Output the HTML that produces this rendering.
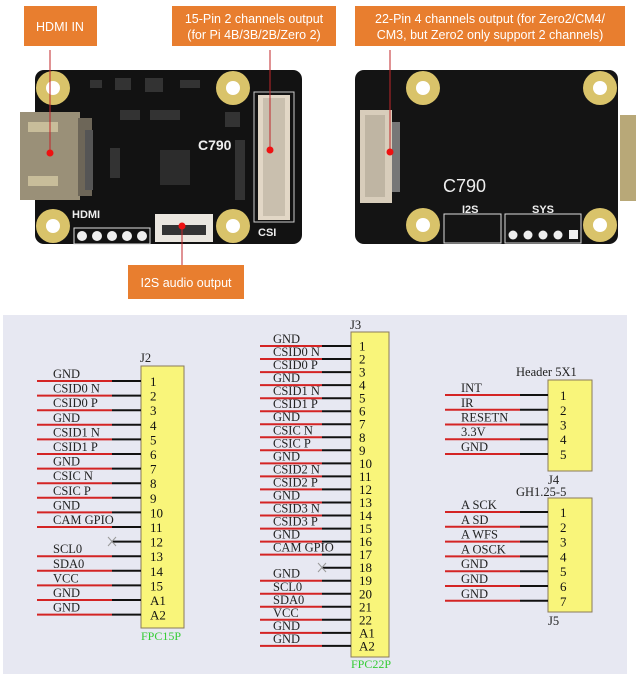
<!DOCTYPE html>
<html><head><meta charset="utf-8"><style>
html,body{margin:0;padding:0;background:#fff;width:640px;height:679px;overflow:hidden}
svg{display:block}
.lb{font-family:"Liberation Sans",sans-serif;font-size:12.5px;fill:#fff}
.s{font-family:"Liberation Serif",serif;font-size:12.5px;fill:#222}
.n{font-family:"Liberation Serif",serif;font-size:13px;fill:#111}
</style></head><body>
<svg width="640" height="679" viewBox="0 0 640 679" xmlns="http://www.w3.org/2000/svg">
<rect width="640" height="679" fill="#fff"/>
<!-- labels -->
<rect x="24" y="6" width="73" height="40" fill="#e87e2f"/>
<text class="lb" x="60" y="31" text-anchor="middle">HDMI IN</text>
<rect x="172" y="6" width="164" height="40" fill="#e87e2f"/>
<text class="lb" x="254" y="23" text-anchor="middle" font-size="12">15-Pin 2 channels output</text>
<text class="lb" x="254" y="39" text-anchor="middle" font-size="12">(for Pi 4B/3B/2B/Zero 2)</text>
<rect x="355" y="6" width="270" height="40" fill="#e87e2f"/>
<text class="lb" x="490" y="23" text-anchor="middle" font-size="12">22-Pin 4 channels output (for Zero2/CM4/</text>
<text class="lb" x="490" y="39" text-anchor="middle" font-size="12">CM3, but Zero2 only support 2 channels)</text>
<rect x="128" y="265" width="116" height="34" fill="#e87e2f"/>
<text class="lb" x="186" y="287" text-anchor="middle">I2S audio output</text>

<!-- board 1 -->
<rect x="35" y="70" width="267" height="174" rx="9" fill="#121212"/>
<g fill="#d9c36a"><circle cx="53" cy="88" r="17"/><circle cx="233" cy="88" r="17"/><circle cx="53" cy="226" r="17"/><circle cx="233" cy="226" r="17"/></g>
<g fill="#fff"><circle cx="53" cy="88" r="7"/><circle cx="233" cy="88" r="7"/><circle cx="53" cy="226" r="7"/><circle cx="233" cy="226" r="7"/></g>
<rect x="20" y="112" width="60" height="88" fill="#9a9078"/>
<rect x="78" y="118" width="14" height="78" fill="#6d6658"/>
<rect x="28" y="122" width="30" height="10" fill="#c8bd9a"/>
<rect x="28" y="176" width="30" height="10" fill="#c8bd9a"/>
<rect x="85" y="130" width="8" height="60" fill="#555"/>
<rect x="160" y="150" width="30" height="35" fill="#2c2c2c"/>
<rect x="258" y="95" width="32" height="125" fill="#e2d7c6"/>
<rect x="263" y="98" width="22" height="118" fill="#c9bfae"/>
<rect x="254" y="92" width="40" height="130" fill="none" stroke="#ccc" stroke-width="1"/>
<text x="198" y="150" font-family="Liberation Sans,sans-serif" font-weight="bold" font-size="14" fill="#eee">C790</text>
<text x="72" y="218" font-family="Liberation Sans,sans-serif" font-weight="bold" font-size="11" fill="#eee">HDMI</text>
<text x="258" y="236" font-family="Liberation Sans,sans-serif" font-weight="bold" font-size="11" fill="#eee">CSI</text>
<rect x="74" y="228" width="76" height="16" fill="none" stroke="#ddd"/>
<g fill="#eee"><circle cx="82" cy="236" r="5"/><circle cx="97" cy="236" r="5"/><circle cx="112" cy="236" r="5"/><circle cx="127" cy="236" r="5"/><circle cx="142" cy="236" r="5"/></g>
<rect x="155" y="214" width="58" height="28" fill="#eae6df"/>
<rect x="162" y="225" width="44" height="10" fill="#333"/>
<g fill="#333"><rect x="90" y="80" width="12" height="8"/><rect x="115" y="78" width="16" height="12"/><rect x="145" y="78" width="18" height="14"/><rect x="180" y="80" width="20" height="8"/><rect x="120" y="110" width="20" height="10"/><rect x="150" y="110" width="30" height="10"/><rect x="110" y="148" width="10" height="30"/><rect x="225" y="112" width="15" height="15"/><rect x="235" y="140" width="10" height="60"/></g>
<line x1="50" y1="50" x2="50" y2="153" stroke="#c0262a" stroke-width="1"/>
<circle cx="50" cy="153" r="3.5" fill="#e11"/>
<line x1="270" y1="50" x2="270" y2="150" stroke="#c0262a" stroke-width="1"/>
<circle cx="270" cy="150" r="3.5" fill="#e11"/>
<line x1="182" y1="226" x2="182" y2="265" stroke="#c0262a" stroke-width="1"/>
<circle cx="182" cy="226" r="3.5" fill="#e11"/>

<!-- board 2 -->
<rect x="355" y="70" width="263" height="174" rx="9" fill="#141414"/>
<rect x="620" y="115" width="16" height="86" fill="#b8a878"/>
<g fill="#d9c36a"><circle cx="423" cy="88" r="17"/><circle cx="600" cy="88" r="17"/><circle cx="423" cy="225" r="17"/><circle cx="600" cy="225" r="17"/></g>
<g fill="#fff"><circle cx="423" cy="88" r="7"/><circle cx="600" cy="88" r="7"/><circle cx="423" cy="225" r="7"/><circle cx="600" cy="225" r="7"/></g>
<rect x="360" y="110" width="32" height="93" fill="#d8cdbb"/>
<rect x="365" y="115" width="20" height="82" fill="#bfb5a3"/>
<rect x="392" y="122" width="8" height="70" fill="#777"/>
<text x="443" y="192" font-family="Liberation Sans,sans-serif" font-size="18" fill="#eee">C790</text>
<text x="462" y="213" font-family="Liberation Sans,sans-serif" font-weight="bold" font-size="11" fill="#eee">I2S</text>
<text x="532" y="213" font-family="Liberation Sans,sans-serif" font-weight="bold" font-size="11" fill="#eee">SYS</text>
<rect x="444" y="214" width="57" height="29" fill="none" stroke="#ddd"/>
<rect x="505" y="214" width="76" height="29" fill="none" stroke="#ddd"/>
<g fill="#eee"><circle cx="513" cy="235" r="4.5"/><circle cx="528" cy="235" r="4.5"/><circle cx="543" cy="235" r="4.5"/><circle cx="558" cy="235" r="4.5"/><rect x="569" y="230" width="9" height="9"/></g>
<line x1="390" y1="50" x2="390" y2="152" stroke="#c0262a" stroke-width="1"/>
<circle cx="390" cy="152" r="3.5" fill="#e11"/>

<!-- schematic panel -->
<rect x="3" y="315" width="624" height="359" fill="#e7e8f2"/>

<!-- J2 -->
<text class="s" x="140" y="362">J2</text>
<rect x="141" y="366" width="43" height="262" fill="#f9f57a" stroke="#8a7a5a" stroke-width="1"/>
<text x="141" y="640" font-family="Liberation Serif,serif" font-size="12" fill="#3c3">FPC15P</text>
<g id="j2"></g>

<!-- J3 -->
<text class="s" x="350" y="329">J3</text>
<rect x="351" y="332" width="38" height="325" fill="#f9f57a" stroke="#8a7a5a" stroke-width="1"/>
<text x="351" y="668" font-family="Liberation Serif,serif" font-size="12" fill="#3c3">FPC22P</text>

<!-- J4 -->
<text class="s" x="516" y="376">Header 5X1</text>
<rect x="548" y="380" width="44" height="91" fill="#f9f57a" stroke="#8a7a5a" stroke-width="1"/>
<text class="s" x="548" y="484">J4</text>
<text class="s" x="516" y="496">GH1.25-5</text>
<rect x="548" y="498" width="44" height="114" fill="#f9f57a" stroke="#8a7a5a" stroke-width="1"/>
<text class="s" x="548" y="625">J5</text>

<g stroke-width="2">
<!-- J2 lines -->
<g>
<path d="M37 381H112M37 395.6H112M37 410.2H112M37 424.8H112M37 439.4H112M37 454H112M37 468.6H112M37 483.2H112M37 497.8H112M37 512.4H112M37 527H112M37 556.2H112M37 570.8H112M37 585.4H112M37 600H112M37 614.6H112" stroke="#d42424"/>
<path d="M112 381H141M112 395.6H141M112 410.2H141M112 424.8H141M112 439.4H141M112 454H141M112 468.6H141M112 483.2H141M112 497.8H141M112 512.4H141M112 527H141M112 541.6H141M112 556.2H141M112 570.8H141M112 585.4H141M112 600H141M112 614.6H141" stroke="#111"/>
</g>
<!-- J3 lines -->
<path d="M260 346H322M260 359H322M260 372.1H322M260 385.1H322M260 398.2H322M260 411.2H322M260 424.2H322M260 437.3H322M260 450.3H322M260 463.4H322M260 476.4H322M260 489.4H322M260 502.5H322M260 515.5H322M260 528.6H322M260 541.6H322M260 554.6H322M260 580.7H322M260 593.8H322M260 606.8H322M260 619.8H322M260 632.9H322M260 645.9H322" stroke="#d42424"/>
<path d="M322 346H351M322 359H351M322 372.1H351M322 385.1H351M322 398.2H351M322 411.2H351M322 424.2H351M322 437.3H351M322 450.3H351M322 463.4H351M322 476.4H351M322 489.4H351M322 502.5H351M322 515.5H351M322 528.6H351M322 541.6H351M322 554.6H351M322 567.7H351M322 580.7H351M322 593.8H351M322 606.8H351M322 619.8H351M322 632.9H351M322 645.9H351" stroke="#111"/>
<!-- J4 -->
<path d="M445 395H520M445 409.8H520M445 424.5H520M445 439.2H520M445 454H520" stroke="#d42424"/>
<path d="M520 395H548M520 409.8H548M520 424.5H548M520 439.2H548M520 454H548" stroke="#111"/>
<!-- J5 -->
<path d="M445 512H520M445 526.8H520M445 541.6H520M445 556.4H520M445 571.2H520M445 586H520M445 600.8H520" stroke="#d42424"/>
<path d="M520 512H548M520 526.8H548M520 541.6H548M520 556.4H548M520 571.2H548M520 586H548M520 600.8H548" stroke="#111"/>
</g>
<g stroke="#999" stroke-width="1"><path d="M108 537l8 9M116 537l-8 9M318 563l8 9M326 563l-8 9"/></g>

<!-- J2 labels -->
<g class="s">
<text class="s" x="53" y="378">GND</text>
<text class="s" x="53" y="392.6">CSID0 N</text>
<text class="s" x="53" y="407.2">CSID0 P</text>
<text class="s" x="53" y="421.8">GND</text>
<text class="s" x="53" y="436.4">CSID1 N</text>
<text class="s" x="53" y="451">CSID1 P</text>
<text class="s" x="53" y="465.6">GND</text>
<text class="s" x="53" y="480.2">CSIC N</text>
<text class="s" x="53" y="494.8">CSIC P</text>
<text class="s" x="53" y="509.4">GND</text>
<text class="s" x="53" y="524">CAM GPIO</text>
<text class="s" x="53" y="553.2">SCL0</text>
<text class="s" x="53" y="567.8">SDA0</text>
<text class="s" x="53" y="582.4">VCC</text>
<text class="s" x="53" y="597">GND</text>
<text class="s" x="53" y="611.6">GND</text>
</g>
<g>
<text class="n" x="150" y="386">1</text><text class="n" x="150" y="400.6">2</text><text class="n" x="150" y="415.2">3</text><text class="n" x="150" y="429.8">4</text><text class="n" x="150" y="444.4">5</text><text class="n" x="150" y="459">6</text><text class="n" x="150" y="473.6">7</text><text class="n" x="150" y="488.2">8</text><text class="n" x="150" y="502.8">9</text><text class="n" x="150" y="517.4">10</text><text class="n" x="150" y="532">11</text><text class="n" x="150" y="546.6">12</text><text class="n" x="150" y="561.2">13</text><text class="n" x="150" y="575.8">14</text><text class="n" x="150" y="590.4">15</text><text class="n" x="150" y="605">A1</text><text class="n" x="150" y="619.6">A2</text>
</g>
<!-- J3 labels -->
<g font-size="11.5">
<text class="s" x="273" y="343" font-size="11.5">GND</text>
<text class="s" x="273" y="356" font-size="11.5">CSID0 N</text>
<text class="s" x="273" y="369.1" font-size="11.5">CSID0 P</text>
<text class="s" x="273" y="382.1" font-size="11.5">GND</text>
<text class="s" x="273" y="395.2" font-size="11.5">CSID1 N</text>
<text class="s" x="273" y="408.2" font-size="11.5">CSID1 P</text>
<text class="s" x="273" y="421.2" font-size="11.5">GND</text>
<text class="s" x="273" y="434.3" font-size="11.5">CSIC N</text>
<text class="s" x="273" y="447.3" font-size="11.5">CSIC P</text>
<text class="s" x="273" y="460.4" font-size="11.5">GND</text>
<text class="s" x="273" y="473.4" font-size="11.5">CSID2 N</text>
<text class="s" x="273" y="486.4" font-size="11.5">CSID2 P</text>
<text class="s" x="273" y="499.5" font-size="11.5">GND</text>
<text class="s" x="273" y="512.5" font-size="11.5">CSID3 N</text>
<text class="s" x="273" y="525.6" font-size="11.5">CSID3 P</text>
<text class="s" x="273" y="538.6" font-size="11.5">GND</text>
<text class="s" x="273" y="551.6" font-size="11.5">CAM GPIO</text>
<text class="s" x="273" y="577.7" font-size="11.5">GND</text>
<text class="s" x="273" y="590.8" font-size="11.5">SCL0</text>
<text class="s" x="273" y="603.8" font-size="11.5">SDA0</text>
<text class="s" x="273" y="616.8" font-size="11.5">VCC</text>
<text class="s" x="273" y="629.9" font-size="11.5">GND</text>
<text class="s" x="273" y="642.9" font-size="11.5">GND</text>
</g>
<g>
<text class="n" x="359" y="350.5" font-size="12">1</text><text class="n" x="359" y="363.5" font-size="12">2</text><text class="n" x="359" y="376.6" font-size="12">3</text><text class="n" x="359" y="389.6" font-size="12">4</text><text class="n" x="359" y="402.7" font-size="12">5</text><text class="n" x="359" y="415.7" font-size="12">6</text><text class="n" x="359" y="428.7" font-size="12">7</text><text class="n" x="359" y="441.8" font-size="12">8</text><text class="n" x="359" y="454.8" font-size="12">9</text><text class="n" x="359" y="467.9" font-size="12">10</text><text class="n" x="359" y="480.9" font-size="12">11</text><text class="n" x="359" y="493.9" font-size="12">12</text><text class="n" x="359" y="507" font-size="12">13</text><text class="n" x="359" y="520" font-size="12">14</text><text class="n" x="359" y="533.1" font-size="12">15</text><text class="n" x="359" y="546.1" font-size="12">16</text><text class="n" x="359" y="559.1" font-size="12">17</text><text class="n" x="359" y="572.2" font-size="12">18</text><text class="n" x="359" y="585.2" font-size="12">19</text><text class="n" x="359" y="598.3" font-size="12">20</text><text class="n" x="359" y="611.3" font-size="12">21</text><text class="n" x="359" y="624.3" font-size="12">22</text><text class="n" x="359" y="637.4" font-size="12">A1</text><text class="n" x="359" y="650.4" font-size="12">A2</text>
</g>
<!-- J4 labels -->
<text class="s" x="461" y="392">INT</text>
<text class="s" x="461" y="406.8">IR</text>
<text class="s" x="461" y="421.5">RESETN</text>
<text class="s" x="461" y="436.2">3.3V</text>
<text class="s" x="461" y="451">GND</text>
<text class="n" x="560" y="400">1</text><text class="n" x="560" y="414.8">2</text><text class="n" x="560" y="429.5">3</text><text class="n" x="560" y="444.2">4</text><text class="n" x="560" y="459">5</text>
<!-- J5 labels -->
<text class="s" x="461" y="509">A SCK</text>
<text class="s" x="461" y="523.8">A SD</text>
<text class="s" x="461" y="538.6">A WFS</text>
<text class="s" x="461" y="553.4">A OSCK</text>
<text class="s" x="461" y="568.2">GND</text>
<text class="s" x="461" y="583">GND</text>
<text class="s" x="461" y="597.8">GND</text>
<text class="n" x="560" y="517">1</text><text class="n" x="560" y="531.8">2</text><text class="n" x="560" y="546.6">3</text><text class="n" x="560" y="561.4">4</text><text class="n" x="560" y="576.2">5</text><text class="n" x="560" y="591">6</text><text class="n" x="560" y="605.8">7</text>
</svg>
</body></html>
